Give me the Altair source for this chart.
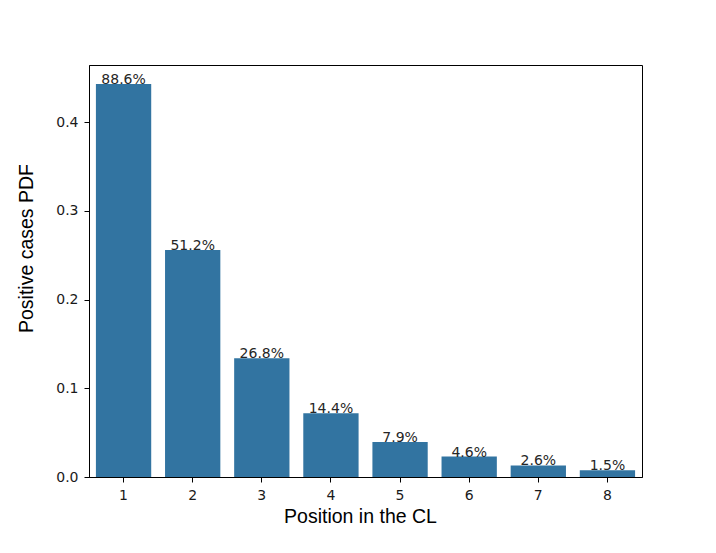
import altair as alt
import pandas as pd

positions = ["1", "2", "3", "4", "5", "6", "7", "8"]
pdf_values = [0.443, 0.256, 0.134, 0.072, 0.0395, 0.023, 0.013, 0.0075]
labels = ["88.6%", "51.2%", "26.8%", "14.4%", "7.9%", "4.6%", "2.6%", "1.5%"]

df = pd.DataFrame({"pos": positions, "val": pdf_values, "lab": labels})

FONT = "DejaVu Sans"
TFONT = "Liberation Sans"

x = alt.X("pos:N", sort=positions,
          scale=alt.Scale(paddingInner=0.2, paddingOuter=0.1),
          axis=alt.Axis(title="Position in the CL", labelAngle=0, titleX=271))
y = alt.Y("val:Q", scale=alt.Scale(domain=[0, 0.4645], nice=False, zero=True),
          axis=alt.Axis(title="Positive cases PDF", values=[0, 0.1, 0.2, 0.3, 0.4],
                        format=".1f", titleY=183))

bars = alt.Chart(df).mark_bar(color="#3274A1").encode(x=x, y=y)
text = alt.Chart(df).mark_text(baseline="alphabetic", align="center", fontSize=14,
                               font=FONT, color="#262626").encode(
    x=alt.X("pos:N", sort=positions), y="val:Q", text="lab:N")

chart = alt.layer(bars, text).properties(
    width=553, height=412,
    autosize=alt.AutoSizeParams(type="none"),
    padding={"left": 81, "top": 57, "right": 66, "bottom": 68},
).configure_view(stroke="black", strokeWidth=1).configure_axis(
    grid=False, domain=True, domainColor="black", tickColor="black",
    tickSize=5, labelFont=FONT, labelFontSize=14, labelColor="#1a1a1a",
    titleFont=TFONT, titleFontSize=19.5, titleFontWeight="normal", titleColor="black",
    labelPadding=6,
).configure_axisX(titlePadding=5).configure_axisY(titlePadding=19)

chart.save("out.html", embed_options={"renderer": "svg", "actions": False})
